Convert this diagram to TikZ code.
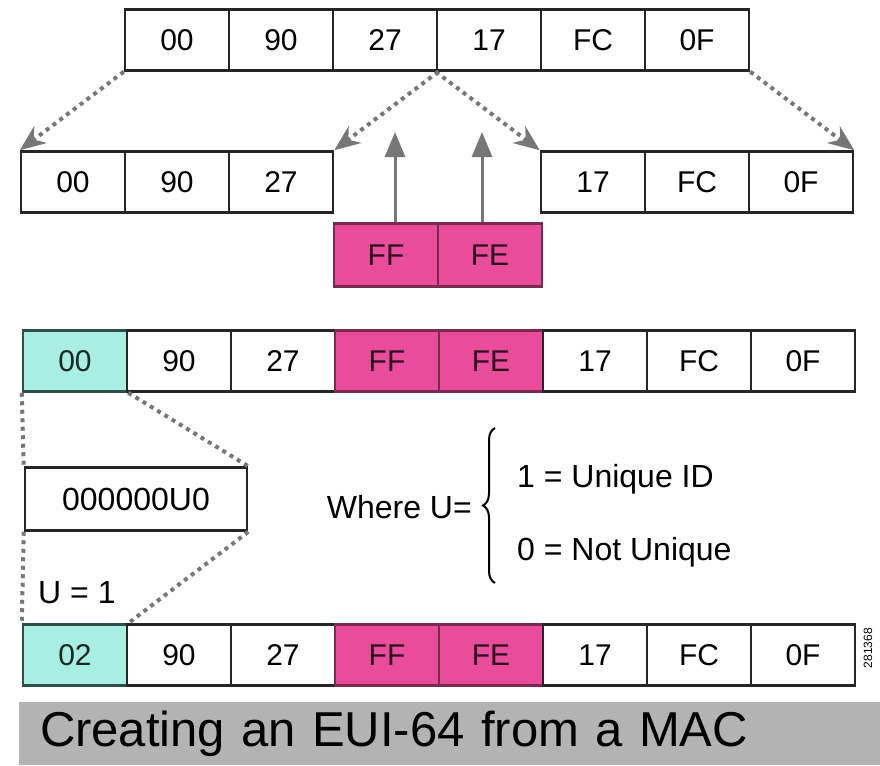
\documentclass[tikz,border=0pt]{standalone}
\usepackage{fontspec}
\setmainfont{Liberation Sans}
\usetikzlibrary{arrows.meta,decorations.pathreplacing}
\definecolor{insertpink}{HTML}{E84C9A}
\definecolor{insertedge}{HTML}{7A2A4E}
\definecolor{flagteal}{HTML}{A9EEE3}
\definecolor{flagedge}{HTML}{2F4F4A}
\definecolor{guidegray}{HTML}{777777}
\definecolor{bargray}{HTML}{B3B3B3}
\tikzset{
    cell/.style={
        draw=black!85,
        line width=2.5pt,
        fill=white,
        minimum width=104pt,
        minimum height=61pt,
        inner sep=0pt,
        font=\fontsize{30}{36}\selectfont
    },
    inserted/.style={
        cell,
        fill=insertpink,
        draw=insertedge,
        text=insertedge!35!black,
        minimum height=63pt
    },
    flagged/.style={
        cell,
        fill=flagteal,
        draw=flagedge,
        text=flagedge!50!black
    },
    guide/.style={
        guidegray,
        line width=4pt,
        line cap=butt,
        dash pattern=on 4pt off 4.5pt
    },
    copyarrow/.style={
        guide,
        -{Stealth[length=26pt, width=21pt]}
    },
    insertarrow/.style={
        guidegray,
        line width=3pt,
        -{Triangle[length=25pt, width=20pt]}
    },
    note/.style={
        inner sep=0pt,
        font=\fontsize{32}{38}\selectfont
    }
}

\begin{document}
\begin{tikzpicture}[x=1pt, y=-1pt]
    \useasboundingbox (0, 0) rectangle (880, 765);
    % MAC address:
    \begin{scope}[shift={(0, 40)}]
        \node [cell] (mac1) at (177, 0) {00};
        \node [cell] (mac2) at (281, 0) {90};
        \node [cell] (mac3) at (385, 0) {27};
        \node [cell] (mac4) at (489, 0) {17};
        \node [cell] (mac5) at (593, 0) {FC};
        \node [cell] (mac6) at (697, 0) {0F};
    \end{scope}
    % Split in two halves:
    \begin{scope}[shift={(0, 182)}]
        \node [cell] (hi1) at (73, 0) {00};
        \node [cell] (hi2) at (177, 0) {90};
        \node [cell] (hi3) at (281, 0) {27};
        \node [cell] (lo1) at (593, 0) {17};
        \node [cell] (lo2) at (697, 0) {FC};
        \node [cell] (lo3) at (801, 0) {0F};
    \end{scope}
    \draw [copyarrow] (mac1.south west) -- (hi1.north west);
    \draw [copyarrow] (mac3.south east) -- (hi3.north east);
    \draw [copyarrow] (mac4.south west) -- (lo1.north west);
    \draw [copyarrow] (mac6.south east) -- (lo3.north east);
    % Inserted bytes:
    \begin{scope}[shift={(0, 255)}]
        \node [inserted] (ff) at (386, 0) {FF};
        \node [inserted] (fe) at (490, 0) {FE};
    \end{scope}
    \coordinate (ffup) at (395, 132);
    \coordinate (feup) at (482, 132);
    \draw [insertarrow] (ffup |- ff.north) -- (ffup);
    \draw [insertarrow] (feup |- fe.north) -- (feup);
    % EUI-64:
    \begin{scope}[shift={(0, 361)}]
        \node [flagged] (eui1) at (75, 0) {00};
        \node [cell] (eui2) at (179, 0) {90};
        \node [cell] (eui3) at (283, 0) {27};
        \node [inserted, minimum height=61pt] (eui4) at (387, 0) {FF};
        \node [inserted, minimum height=61pt] (eui5) at (491, 0) {FE};
        \node [cell] (eui6) at (595, 0) {17};
        \node [cell] (eui7) at (699, 0) {FC};
        \node [cell] (eui8) at (803, 0) {0F};
    \end{scope}
    % First byte in bits:
    \node [cell, minimum width=222pt, minimum height=63pt, font=\fontsize{32}{38}\selectfont] (flag) at (136, 499) {000000U0};
    \draw [guide] (eui1.south west) -- (flag.north west);
    \draw [guide] (eui1.south east) -- (flag.north east);
    \node [note, anchor=base west] (uset) at (38, 603) {U = 1};
    % Meaning of U:
    \node [note, anchor=base east] (where) at (472, 518) {Where U=};
    \coordinate (bracetop) at (495, 428);
    \coordinate (bracebot) at (495, 583);
    \draw [line width=2pt, decorate, decoration={brace, amplitude=12pt}] (bracebot) -- (bracetop);
    \node [note, anchor=base west] (uniq) at (517, 487) {1 = Unique ID};
    \node [note, anchor=base west] (notuniq) at (517, 560) {0 = Not Unique};
    % Modified EUI-64:
    \begin{scope}[shift={(0, 655)}]
        \node [flagged] (new1) at (75, 0) {02};
        \node [cell] (new2) at (179, 0) {90};
        \node [cell] (new3) at (283, 0) {27};
        \node [inserted, minimum height=61pt] (new4) at (387, 0) {FF};
        \node [inserted, minimum height=61pt] (new5) at (491, 0) {FE};
        \node [cell] (new6) at (595, 0) {17};
        \node [cell] (new7) at (699, 0) {FC};
        \node [cell] (new8) at (803, 0) {0F};
    \end{scope}
    \draw [guide] (flag.south west) -- (new1.north west);
    \draw [guide] (flag.south east) -- (new1.north east);
    \node [rotate=90, font=\fontsize{12}{14}\selectfont] (figid) at (868, 648) {281368};
    % Caption:
    \node [fill=bargray, minimum width=861pt, minimum height=63pt, inner xsep=21pt, text width=819pt, align=left, font=\fontsize{49}{56}\selectfont] (title) at (449.5, 733.5) {Creating an EUI-64 from a MAC};
\end{tikzpicture}
\end{document}
